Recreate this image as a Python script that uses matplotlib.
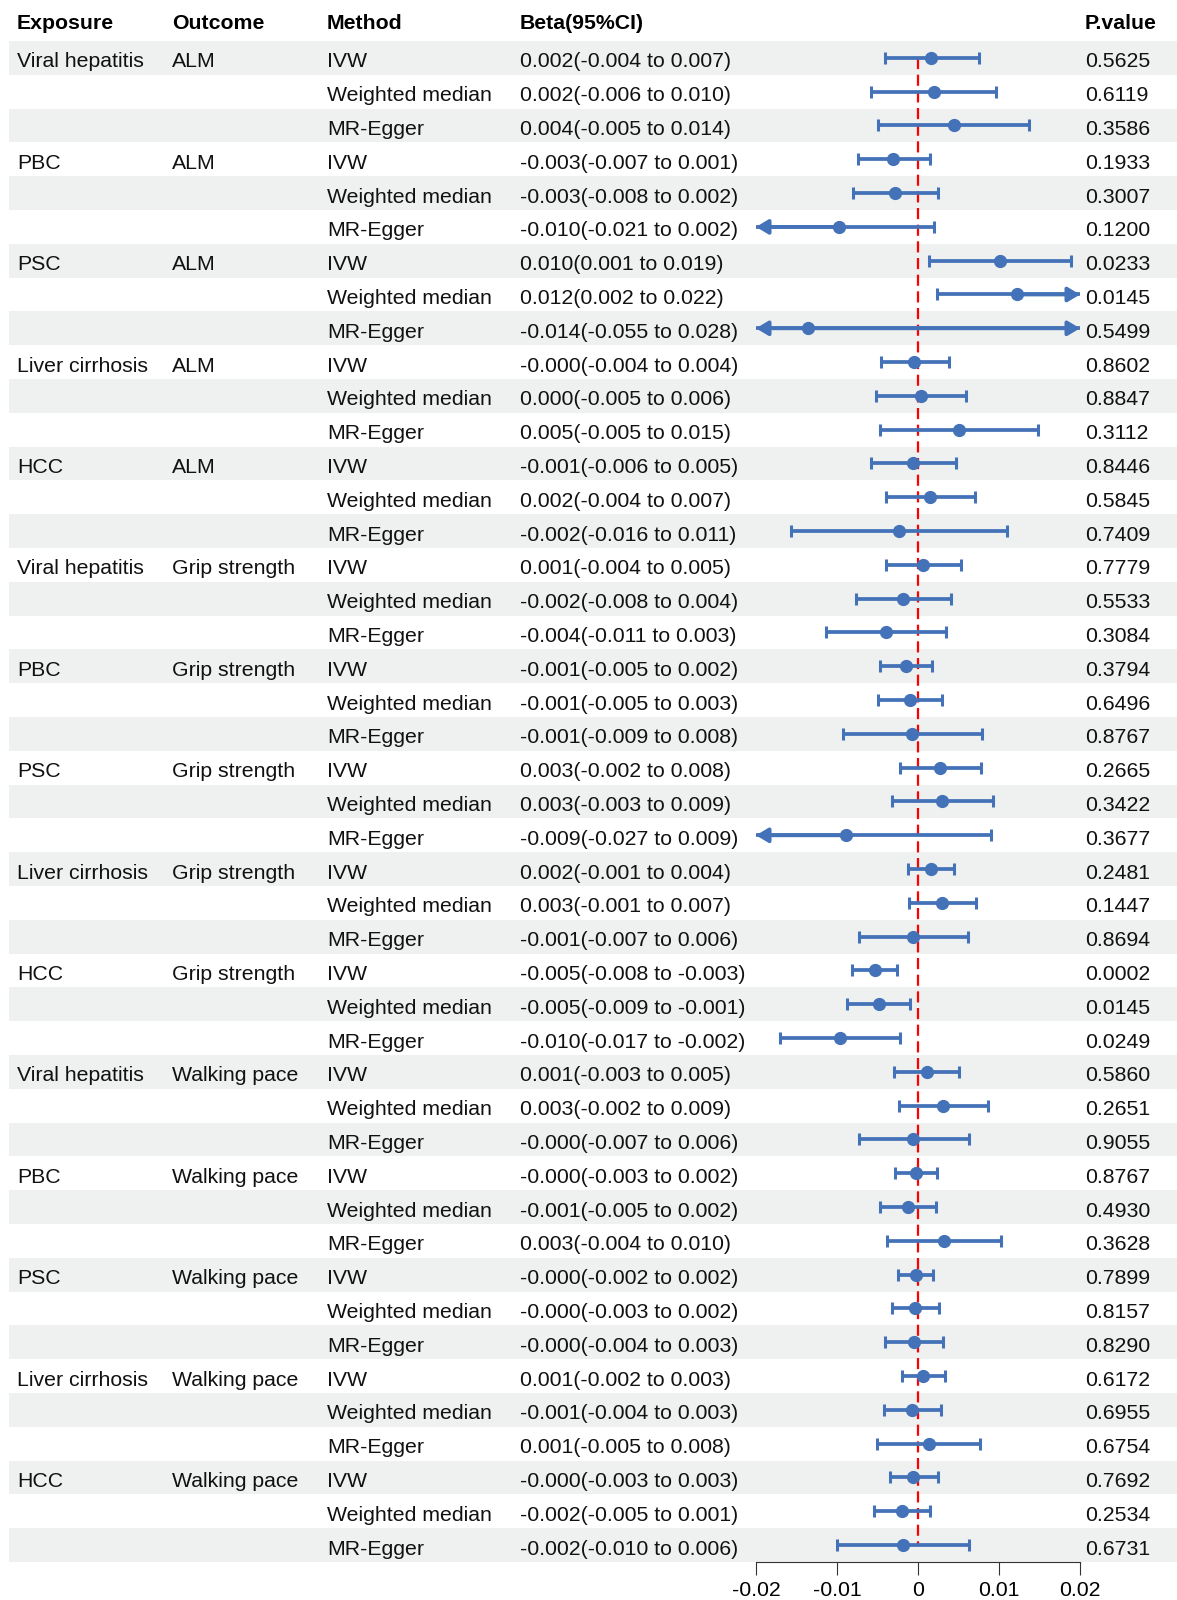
import matplotlib.pyplot as plt

plt.rcParams["font.family"] = ["Liberation Sans", "DejaVu Sans"]

exposures = ["Viral hepatitis", "PBC", "PSC", "Liver cirrhosis", "HCC"]
outcomes = ["ALM", "Grip strength", "Walking pace"]
methods = ["IVW", "Weighted median", "MR-Egger"]

# point estimates / CI read off the plotted marks
beta = [0.00156, 0.00193, 0.00440, -0.00305, -0.00284, -0.00975, 0.01012, 0.01218, -0.01358,
        -0.00045, 0.00033, 0.00502, -0.00058, 0.00148, -0.00235,
        0.00066, -0.00185, -0.00399, -0.00144, -0.00095, -0.00074, 0.00272, 0.00296, -0.00893,
        0.00156, 0.00300, -0.00066, -0.00535, -0.00486, -0.00963,
        0.00107, 0.00305, -0.00058, -0.00025, -0.00128, 0.00321, -0.00029, -0.00037, -0.00049,
        0.00058, -0.00074, 0.00132, -0.00058, -0.00202, -0.00189]
lower = [-0.00412, -0.00576, -0.00494, -0.00745, -0.00807, -0.021, 0.00132, 0.00239, -0.055,
         -0.00453, -0.00514, -0.00465, -0.00576, -0.00399, -0.01568,
         -0.00399, -0.00770, -0.01132, -0.00465, -0.00490, -0.00926, -0.00222, -0.00325, -0.027,
         -0.00123, -0.00111, -0.00733, -0.00811, -0.00872, -0.01700,
         -0.00292, -0.00239, -0.00724, -0.00284, -0.00469, -0.00383, -0.00243, -0.00325, -0.00403,
         -0.00198, -0.00424, -0.00506, -0.00346, -0.00543, -0.01004]
upper = [0.00748, 0.00967, 0.01370, 0.00144, 0.00247, 0.00198, 0.01889, 0.022, 0.028,
         0.00379, 0.00588, 0.01477, 0.00465, 0.00700, 0.01103,
         0.00527, 0.00407, 0.00342, 0.00177, 0.00296, 0.00790, 0.00774, 0.00926, 0.00901,
         0.00440, 0.00712, 0.00613, -0.00255, -0.00095, -0.00226,
         0.00506, 0.00860, 0.00626, 0.00239, 0.00226, 0.01025, 0.00181, 0.00255, 0.00313,
         0.00329, 0.00284, 0.00765, 0.00247, 0.00144, 0.00634]

ci_text = [
    "0.002(-0.004 to 0.007)", "0.002(-0.006 to 0.010)", "0.004(-0.005 to 0.014)",
    "-0.003(-0.007 to 0.001)", "-0.003(-0.008 to 0.002)", "-0.010(-0.021 to 0.002)",
    "0.010(0.001 to 0.019)", "0.012(0.002 to 0.022)", "-0.014(-0.055 to 0.028)",
    "-0.000(-0.004 to 0.004)", "0.000(-0.005 to 0.006)", "0.005(-0.005 to 0.015)",
    "-0.001(-0.006 to 0.005)", "0.002(-0.004 to 0.007)", "-0.002(-0.016 to 0.011)",
    "0.001(-0.004 to 0.005)", "-0.002(-0.008 to 0.004)", "-0.004(-0.011 to 0.003)",
    "-0.001(-0.005 to 0.002)", "-0.001(-0.005 to 0.003)", "-0.001(-0.009 to 0.008)",
    "0.003(-0.002 to 0.008)", "0.003(-0.003 to 0.009)", "-0.009(-0.027 to 0.009)",
    "0.002(-0.001 to 0.004)", "0.003(-0.001 to 0.007)", "-0.001(-0.007 to 0.006)",
    "-0.005(-0.008 to -0.003)", "-0.005(-0.009 to -0.001)", "-0.010(-0.017 to -0.002)",
    "0.001(-0.003 to 0.005)", "0.003(-0.002 to 0.009)", "-0.000(-0.007 to 0.006)",
    "-0.000(-0.003 to 0.002)", "-0.001(-0.005 to 0.002)", "0.003(-0.004 to 0.010)",
    "-0.000(-0.002 to 0.002)", "-0.000(-0.003 to 0.002)", "-0.000(-0.004 to 0.003)",
    "0.001(-0.002 to 0.003)", "-0.001(-0.004 to 0.003)", "0.001(-0.005 to 0.008)",
    "-0.000(-0.003 to 0.003)", "-0.002(-0.005 to 0.001)", "-0.002(-0.010 to 0.006)",
]
p_text = [
    "0.5625", "0.6119", "0.3586", "0.1933", "0.3007", "0.1200", "0.0233", "0.0145", "0.5499",
    "0.8602", "0.8847", "0.3112", "0.8446", "0.5845", "0.7409",
    "0.7779", "0.5533", "0.3084", "0.3794", "0.6496", "0.8767", "0.2665", "0.3422", "0.3677",
    "0.2481", "0.1447", "0.8694", "0.0002", "0.0145", "0.0249",
    "0.5860", "0.2651", "0.9055", "0.8767", "0.4930", "0.3628", "0.7899", "0.8157", "0.8290",
    "0.6172", "0.6955", "0.6754", "0.7692", "0.2534", "0.6731",
]
xticks = [-0.02, -0.01, 0, 0.01, 0.02]
xtick_labels = ["-0.02", "-0.01", "0", "0.01", "0.02"]

BLUE = "#4472b8"
STRIPE = "#eef1f0"
FS = 15.3
W, H = 1177, 1600
TOP, BOT = 41, 1562          # pixel extent of the rows
XL, XR = 756, 1080           # pixel extent of forest axis
n = len(beta)
dy = 0.06                    # small nudge so text sits on the row centre

fig = plt.figure(figsize=(W / 100, H / 100), dpi=100)
fig.patch.set_facecolor("white")

# table axes (x in pixels, y in rows)
tab = fig.add_axes([0, 1 - BOT / H, 1, (BOT - TOP) / H])
tab.set_xlim(0, W)
tab.set_ylim(n - 0.5, -0.5)
tab.axis("off")

for i in range(0, n, 2):
    tab.axhspan(i - 0.5, i + 0.5, xmin=9 / W, xmax=1, color=STRIPE, lw=0, zorder=0)

col_x = {"exp": 17, "out": 172, "met": 327, "ci": 520, "p": 1085}
hdr = dict(fontsize=FS, fontweight="bold", va="center_baseline", ha="left")
hy = -1.07
tab.text(col_x["exp"], hy, "Exposure", **hdr)
tab.text(col_x["out"], hy, "Outcome", **hdr)
tab.text(col_x["met"], hy, "Method", **hdr)
tab.text(col_x["ci"], hy, "Beta(95%CI)", **hdr)
tab.text(col_x["p"], hy, "P.value", **hdr)

txt = dict(fontsize=FS, va="center_baseline", ha="left", color="#111111")
i = 0
for outc in outcomes:
    for expo in exposures:
        for k, m in enumerate(methods):
            if k == 0:
                tab.text(col_x["exp"], i + dy, expo, **txt)
                tab.text(col_x["out"], i + dy, outc, **txt)
            tab.text(col_x["met"], i + dy, m, **txt)
            tab.text(col_x["ci"], i + dy, ci_text[i], **txt)
            tab.text(col_x["p"], i + dy, p_text[i], **txt)
            i += 1

# forest axes
ax = fig.add_axes([XL / W, 1 - BOT / H, (XR - XL) / W, (BOT - TOP) / H])
ax.patch.set_alpha(0)
ax.set_xlim(-0.02, 0.02)
ax.set_ylim(n - 0.5, -0.5)

ax.vlines(0, 0, n - 1, colors="red", linestyles=(0, (5, 2.5)), lw=1.6, zorder=1)

LW = 2.7
arrow_kw = dict(arrowstyle="-|>,head_length=0.6,head_width=0.36", color=BLUE, lw=LW,
                shrinkA=0, shrinkB=0, mutation_scale=12)
for i in range(n):
    a = max(lower[i], -0.02)
    b = min(upper[i], 0.02)
    ax.hlines(i, a, b, color=BLUE, lw=LW, zorder=2)
    if lower[i] >= -0.02:
        ax.plot(a, i, marker="|", ms=8.5, mew=2.2, color=BLUE, zorder=2)
    else:
        ax.annotate("", xy=(-0.02, i), xytext=(beta[i], i), arrowprops=arrow_kw,
                    annotation_clip=False, zorder=2)
    if upper[i] <= 0.02:
        ax.plot(b, i, marker="|", ms=8.5, mew=2.2, color=BLUE, zorder=2)
    else:
        ax.annotate("", xy=(0.02, i), xytext=(beta[i], i), arrowprops=arrow_kw,
                    annotation_clip=False, zorder=2)

ax.plot(beta, range(n), "o", color=BLUE, ms=8.5, zorder=3, clip_on=False)

for s in ["top", "right", "left"]:
    ax.spines[s].set_visible(False)
ax.spines["bottom"].set_linewidth(0.8)
ax.spines["bottom"].set_color("#333333")
ax.set_yticks([])
ax.set_xticks(xticks)
ax.set_xticklabels(xtick_labels)
ax.tick_params(axis="x", length=9.5, width=0.8, pad=4.5, labelsize=FS, color="#333333")

fig.savefig("out.png", dpi=100, facecolor="white")
